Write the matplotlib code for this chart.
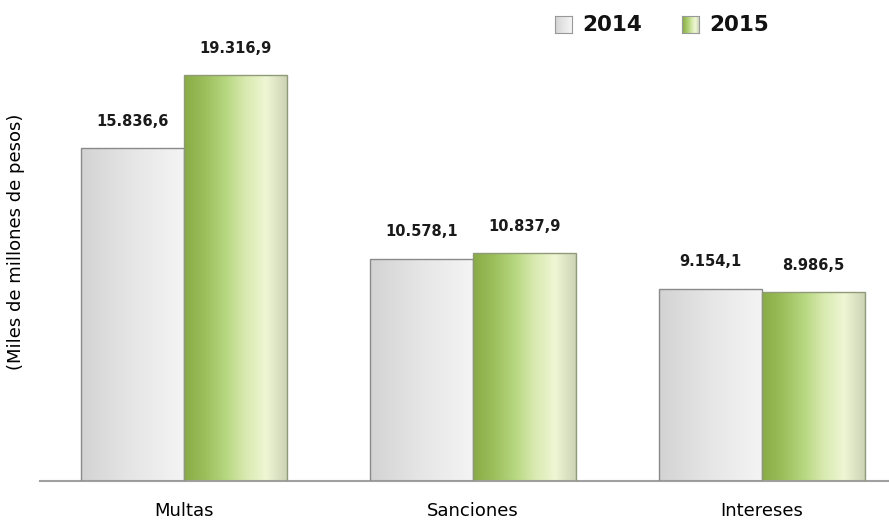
import numpy as np
import matplotlib
matplotlib.use("Agg")
import matplotlib.pyplot as plt
from matplotlib.colors import LinearSegmentedColormap
from matplotlib.patches import Rectangle

categories = ["Multas", "Sanciones", "Intereses"]
series_names = ["2014", "2015"]
values_2014 = [15836.6, 10578.1, 9154.1]
values_2015 = [19316.9, 10837.9, 8986.5]
labels_2014 = ["15.836,6", "10.578,1", "9.154,1"]
labels_2015 = ["19.316,9", "10.837,9", "8.986,5"]

fig = plt.figure(figsize=(8.89, 5.29), dpi=100)
ax = fig.add_axes([0.045, 0.0907, 0.955, 0.8337])

gray_cmap = LinearSegmentedColormap.from_list("g", ["#d3d3d3", "#e6e6e6", "#f4f4f4"])
green_cmap = LinearSegmentedColormap.from_list(
    "gr", ["#88ab45", "#9cbf5c", "#b5d67e", "#d9eab0", "#eef6d4", "#cdd3b5"])

width = 0.355
x = np.arange(len(categories))
xlim = (-0.498, 2.439)
ylim = (0, 20980)

b1 = ax.bar(x - width / 2, values_2014, width, color="none", edgecolor="#8a8a8a", linewidth=1.0, zorder=3)
b2 = ax.bar(x + width / 2, values_2015, width, color="none", edgecolor="#8f9a78", linewidth=1.0, zorder=3)

grad = np.linspace(0, 1, 256).reshape(1, -1)
for bars, cmap in ((b1, gray_cmap), (b2, green_cmap)):
    for p in bars:
        x0, y0 = p.get_x(), p.get_y()
        w, h = p.get_width(), p.get_height()
        im = ax.imshow(grad, extent=[x0, x0 + w, y0, y0 + h], aspect="auto",
                       cmap=cmap, zorder=2, interpolation="bicubic")
        clip = Rectangle((x0, y0), w, h, transform=ax.transData)
        im.set_clip_path(clip)

ax.set_xlim(*xlim)
ax.set_ylim(*ylim)

for p, lab in zip(b1, labels_2014):
    ax.annotate(lab, (p.get_x() + p.get_width() / 2, p.get_height()), xytext=(0, 14),
                textcoords="offset points", ha="center", va="bottom",
                fontsize=10.5, fontweight="bold", color="#1a1a1a")
for p, lab in zip(b2, labels_2015):
    ax.annotate(lab, (p.get_x() + p.get_width() / 2, p.get_height()), xytext=(0, 14),
                textcoords="offset points", ha="center", va="bottom",
                fontsize=10.5, fontweight="bold", color="#1a1a1a")

for s in ("top", "right", "left"):
    ax.spines[s].set_visible(False)
ax.spines["bottom"].set_color("#a0a0a0")
ax.spines["bottom"].set_linewidth(1.5)
ax.set_yticks([])
ax.set_xticks(x)
ax.set_xticklabels(categories, fontsize=13)
ax.tick_params(axis="x", length=0, pad=15)

fig.text(0.018, 0.5425, "(Miles de millones de pesos)", rotation=90, ha="center", va="center", fontsize=13)

# legend
sq_w = 17 / 889
sq_h = 17 / 529
for lx, name, cmap in ((555, series_names[0], gray_cmap), (682, series_names[1], green_cmap)):
    lax = fig.add_axes([lx / 889, 1 - 33 / 529, sq_w, sq_h])
    lax.imshow(grad, aspect="auto", cmap=cmap, extent=[0, 1, 0, 1])
    lax.set_xticks([]); lax.set_yticks([])
    for s in lax.spines.values():
        s.set_color("#999999")
    fig.text((lx + 27) / 889, 1 - 25 / 529, name, ha="left", va="center",
             fontsize=15.5, fontweight="bold", color="#111111")

fig.savefig("out.png", dpi=100)
